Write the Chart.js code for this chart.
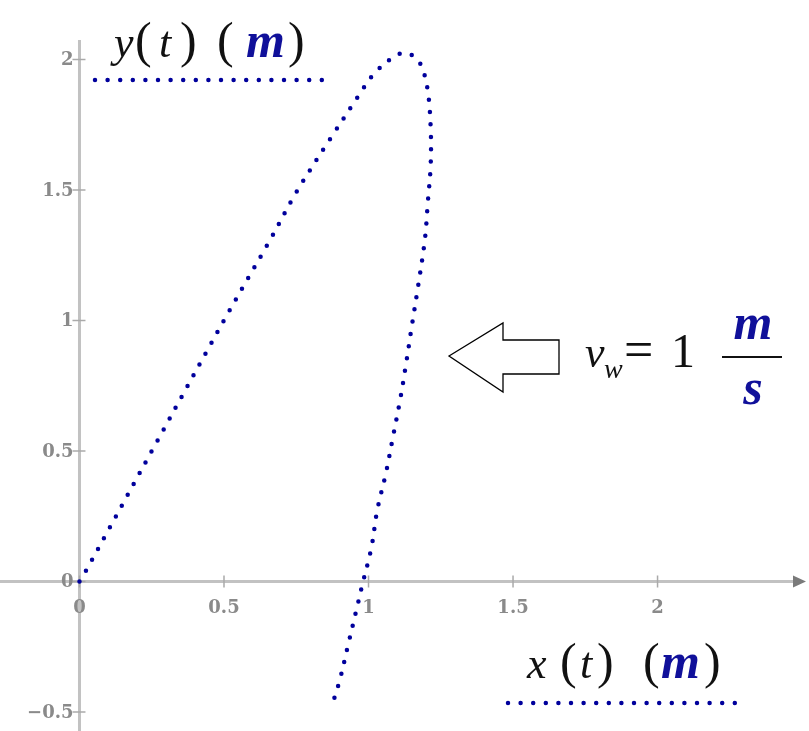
<!DOCTYPE html>
<html>
<head>
<meta charset="utf-8">
<script src="https://cdn.jsdelivr.net/npm/chart.js@4/dist/chart.umd.min.js"></script>
<style>
  html, body { margin: 0; padding: 0; background: #fff; }
  #wrap { width: 809px; height: 731px; }
</style>
</head>
<body>
<div id="wrap"><canvas id="trajChart" width="809" height="731"></canvas></div>
<script>
// trajectory (metres)
var xValues = [0, 0.02, 0.27, 0.52, 0.65, 0.755, 0.87, 0.965, 1.015, 1.08, 1.12, 1.16, 1.185, 1.205, 1.215, 1.215,
               1.205, 1.195, 1.17, 1.15, 1.13, 1.11, 1.085, 1.06, 1.03, 1.01, 0.98, 0.96, 0.93, 0.90, 0.875];
var yValues = [0, 0.036, 0.54, 1.04, 1.29, 1.50, 1.70, 1.86, 1.94, 2.005, 2.025, 2.01, 1.97, 1.88, 1.74, 1.595,
               1.45, 1.31, 1.12, 0.98, 0.835, 0.70, 0.556, 0.414, 0.272, 0.13, -0.006, -0.10, -0.24, -0.38, -0.47];

var xTicks = [0, 0.5, 1, 1.5, 2];
var xTickLabels = ['0', '0.5', '1', '1.5', '2'];
var yTicks = [-0.5, 0, 0.5, 1, 1.5, 2];
var yTickLabels = ['\u22120.5', '0', '0.5', '1', '1.5', '2'];

var xRange = [-0.275, 2.524];
var yRange = [-0.573, 2.228];

var curveColor = '#00009c';
var axisColor = '#c2c2c2';
var tickFont = 'bold 18px "DejaVu Serif"';

var ital = 'italic 44px "Liberation Serif"';
var paren = '50px "Liberation Serif"';
var unit = 'bold italic 50px "Liberation Serif"';
var black = '#111', blue = '#10109a';

function dottedLine(ctx, x1, y1, x2, y2) {
    ctx.save();
    ctx.strokeStyle = curveColor;
    ctx.lineWidth = 4.5;
    ctx.lineCap = 'round';
    ctx.setLineDash([0, 12.6]);
    ctx.beginPath();
    ctx.moveTo(x1, y1);
    ctx.lineTo(x2, y2);
    ctx.stroke();
    ctx.restore();
}

// pieces: [text, x, font, colour]
function placeText(ctx, baseline, parts) {
    parts.forEach(function (p) {
        ctx.font = p[2];
        ctx.fillStyle = p[3];
        ctx.fillText(p[0], p[1], baseline);
    });
}

function axisLabel(ctx, baseline, name, pos) {
    placeText(ctx, baseline, [
        [name, pos[0], ital, black],
        ['(', pos[1], paren, black],
        ['t', pos[2], ital, black],
        [')', pos[3], paren, black],
        ['(', pos[4], paren, black],
        ['m', pos[5], unit, blue],
        [')', pos[6], paren, black]
    ]);
}

var axesPlugin = {
    id: 'mathAxes',
    beforeDatasetsDraw: function (chart) {
        var ctx = chart.ctx;
        var xs = chart.scales.x, ys = chart.scales.y;
        var x0 = xs.getPixelForValue(0), y0 = ys.getPixelForValue(0);
        var w = chart.width, h = chart.height;

        ctx.save();
        ctx.strokeStyle = axisColor;
        ctx.lineWidth = 3;
        ctx.beginPath();
        ctx.moveTo(0, y0);
        ctx.lineTo(w - 14, y0);
        ctx.moveTo(x0, 40);
        ctx.lineTo(x0, h);
        ctx.stroke();

        // arrow head on x axis
        ctx.fillStyle = '#7a7a7a';
        ctx.beginPath();
        ctx.moveTo(w - 16, y0 - 6);
        ctx.lineTo(w - 3, y0);
        ctx.lineTo(w - 16, y0 + 6);
        ctx.closePath();
        ctx.fill();

        // tick marks
        ctx.strokeStyle = '#aaaaaa';
        ctx.lineWidth = 1.5;
        ctx.beginPath();
        xTicks.forEach(function (v) {
            var px = xs.getPixelForValue(v);
            ctx.moveTo(px, y0 - 6);
            ctx.lineTo(px, y0 + 6);
        });
        yTicks.forEach(function (v) {
            var py = ys.getPixelForValue(v);
            ctx.moveTo(x0 - 7, py);
            ctx.lineTo(x0 + 6, py);
        });
        ctx.stroke();

        // tick labels
        ctx.font = tickFont;
        ctx.fillStyle = '#8a8a8a';
        ctx.textAlign = 'center';
        ctx.textBaseline = 'middle';
        xTicks.forEach(function (v, i) {
            ctx.fillText(xTickLabels[i], xs.getPixelForValue(v), y0 + 27);
        });
        ctx.textAlign = 'right';
        yTicks.forEach(function (v, i) {
            ctx.fillText(yTickLabels[i], x0 - 6, ys.getPixelForValue(v) + 1);
        });
        ctx.restore();
    },
    afterDatasetsDraw: function (chart) {
        var ctx = chart.ctx;
        ctx.save();
        ctx.textAlign = 'left';
        ctx.textBaseline = 'alphabetic';

        // axis titles with their legend lines
        axisLabel(ctx, 57, 'y', [114, 135, 159, 180, 217, 246, 288]);
        dottedLine(ctx, 95, 80, 323, 80);
        axisLabel(ctx, 678, 'x', [527, 560, 580, 597, 643, 661, 704]);
        dottedLine(ctx, 508, 703, 735, 703);

        // wind arrow
        ctx.strokeStyle = '#000';
        ctx.lineWidth = 1.3;
        ctx.beginPath();
        ctx.moveTo(449, 356);
        ctx.lineTo(503, 323);
        ctx.lineTo(503, 340);
        ctx.lineTo(559, 340);
        ctx.lineTo(559, 374);
        ctx.lineTo(503, 374);
        ctx.lineTo(503, 392);
        ctx.closePath();
        ctx.stroke();

        // v_w = 1 m/s
        placeText(ctx, 367, [
            ['v', 585, ital, black],
            ['=', 624, '52px "Liberation Serif"', black],
            ['1', 671, '48px "Liberation Serif"', black]
        ]);
        placeText(ctx, 378, [['w', 604, 'italic 28px "Liberation Serif"', black]]);
        ctx.fillStyle = black;
        ctx.fillRect(722, 356, 60, 2);
        ctx.textAlign = 'center';
        placeText(ctx, 339, [['m', 753, unit, blue]]);
        placeText(ctx, 404, [['s', 753, unit, blue]]);
        ctx.restore();
    }
};

var points = xValues.map(function (x, i) { return { x: x, y: yValues[i] }; });

var ctx = document.getElementById('trajChart').getContext('2d');
var trajChart = new Chart(ctx, {
    type: 'scatter',
    data: {
        datasets: [{
            data: points,
            showLine: true,
            borderColor: curveColor,
            borderWidth: 4.5,
            borderCapStyle: 'round',
            borderDash: [0, 12.4],
            tension: 0.35,
            pointRadius: 0,
            fill: false
        }]
    },
    options: {
        responsive: false,
        animation: false,
        layout: { padding: 0 },
        plugins: { legend: { display: false }, tooltip: { enabled: false } },
        scales: {
            x: { type: 'linear', display: false, min: xRange[0], max: xRange[1] },
            y: { type: 'linear', display: false, min: yRange[0], max: yRange[1] }
        }
    },
    plugins: [axesPlugin]
});
</script>
</body>
</html>
